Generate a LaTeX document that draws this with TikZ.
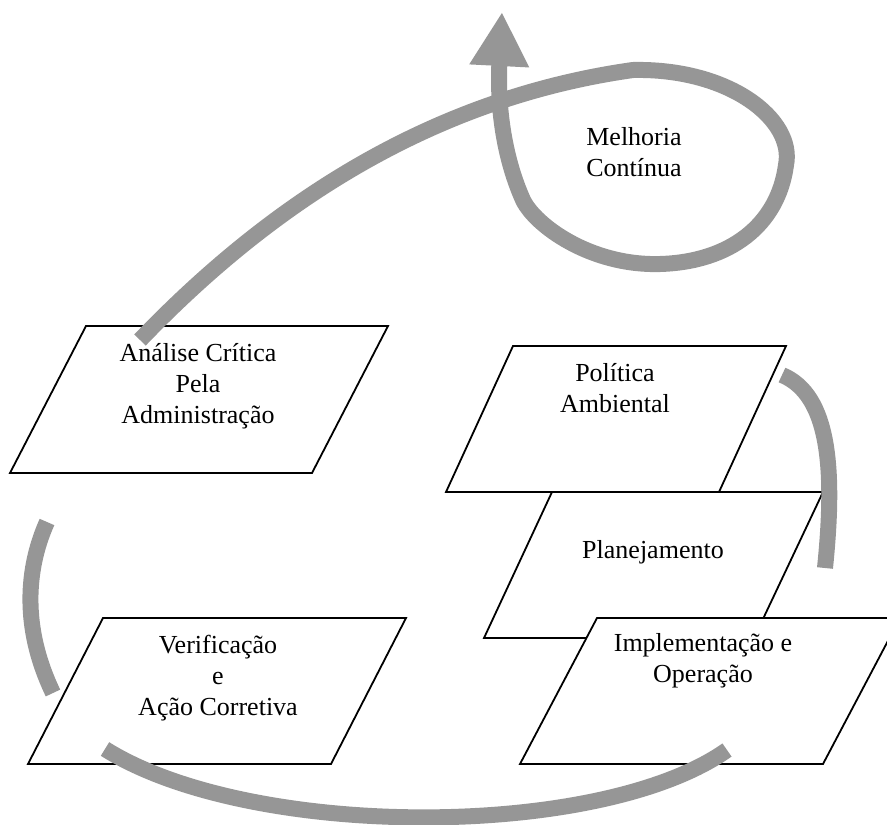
\documentclass[tikz,border=0pt]{standalone}
\usepackage{fontspec}
\setmainfont{Liberation Serif}
\usepackage{tikz}
\usetikzlibrary{arrows.meta}
\definecolor{cinza}{RGB}{150,150,150}
\tikzset{etapa/.style={draw=black, fill=white, line width=1.8pt}}
\tikzset{rotulo/.style={align=center, inner sep=0pt, anchor=base, font=\fontsize{26}{31}\selectfont}}
\tikzset{ciclo/.style={draw=cinza, line width=16pt}}

\begin{document}
\begin{tikzpicture}[x=1pt, y=-1pt]
\useasboundingbox (0,0) rectangle (887,825);
\clip (0,0) rectangle (887,825);
% etapas do ciclo
\draw[etapa] (86,326) -- (388,326) -- (312,473) -- (10,473) -- cycle;
\draw[etapa] (513,346) -- (786,346) -- (719,492) -- (446,492) -- cycle;
\draw[etapa] (552,492) -- (823,492) -- (754,638) -- (484,638) -- cycle;
\draw[etapa] (597,618) -- (900,618) -- (823,764) -- (520,764) -- cycle;
\draw[etapa] (103,618) -- (406,618) -- (331,764) -- (28,764) -- cycle;
% textos (base = ultima linha)
\node[rotulo] (melhoria) at (634,176) {Melhoria\\Contínua};
\node[rotulo] (analise) at (198,423) {Análise Crítica\\Pela\\Administração};
\node[rotulo] (politica) at (615,412) {Política\\Ambiental};
\node[rotulo] (planej) at (653,558) {Planejamento};
\node[rotulo] (implem) at (703,682) {Implementação e\\Operação};
\node[rotulo] (verif) at (218,715) {Verificação\\e\\Ação Corretiva};
% pontas das faixas
\coordinate (politica-saida) at (782,375);
\coordinate (planej-entrada) at (825,568);
\coordinate (implem-saida) at (727,750);
\coordinate (verif-entrada) at (105,749);
\coordinate (verif-saida) at (53,693);
\coordinate (analise-entrada) at (47,522);
\coordinate (analise-saida) at (140,340);
\coordinate (melhoria-ponta) at (502,12);
% faixas
\draw[ciclo] (politica-saida) .. controls (830,395) and (835,470) .. (planej-entrada);
\draw[ciclo] (implem-saida) .. controls (600,840) and (250,840) .. (verif-entrada);
\draw[ciclo] (verif-saida) .. controls (18,620) and (30,560) .. (analise-entrada);
\draw[ciclo, -{Triangle[length=54pt, width=56pt]}] (analise-saida)
  .. controls (260,215) and (420,100) .. (633,70)
  .. controls (730,68) and (795,120) .. (786,165)
  .. controls (778,225) and (730,262) .. (660,264)
  .. controls (590,266) and (535,225) .. (523,200)
  .. controls (505,160) and (497,110) .. (melhoria-ponta);
\end{tikzpicture}
\end{document}
